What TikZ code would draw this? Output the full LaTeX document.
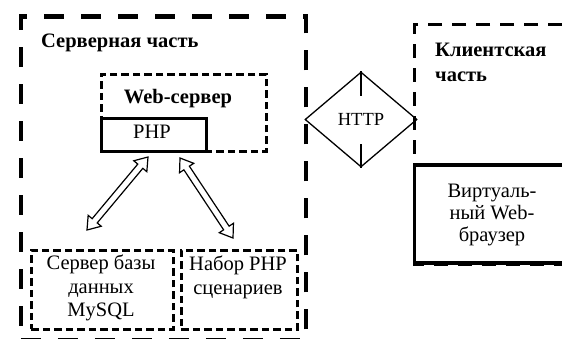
\documentclass[tikz,border=0pt]{standalone}
\usepackage{fontspec}
\setmainfont{Liberation Serif}
\usetikzlibrary{calc,shapes.geometric}
\newcommand\hollowdbl[2]{%
  \coordinate (#1h) at ($(#1)!12pt!(#2)$);
  \coordinate (#2h) at ($(#2)!12pt!(#1)$);
  \draw[arrowline] (#1)
    -- ($(#1h)!8.5pt!90:(#2)$) -- ($(#1h)!3.3pt!90:(#2)$)
    -- ($(#2h)!3.3pt!-90:(#1)$) -- ($(#2h)!8.5pt!-90:(#1)$)
    -- (#2)
    -- ($(#2h)!8.5pt!90:(#1)$) -- ($(#2h)!3.3pt!90:(#1)$)
    -- ($(#1h)!3.3pt!-90:(#2)$) -- ($(#1h)!8.5pt!-90:(#2)$)
    -- cycle;}
\begin{document}
\begin{tikzpicture}[x=1pt,y=-1pt,
  every node/.style={font=\fontsize{20.5}{23.5}\selectfont, inner sep=0pt},
  serverbox/.style={draw, rectangle, line width=4.5pt, dash pattern=on 20pt off 17pt},
  clientbox/.style={draw, line width=3pt, dash pattern=on 14pt off 10pt},
  webbox/.style={draw, rectangle, line width=2.7pt, dash pattern=on 7.5pt off 4pt},
  solidbox/.style={draw, rectangle, line width=3.2pt},
  txt/.style={align=center},
  ttl/.style={font=\fontsize{20.5}{25}\selectfont\bfseries, align=left},
  arrowline/.style={draw, line width=1.2pt, fill=white, line join=miter},
]
\useasboundingbox (0,0) rectangle (562,338);
% server part
\node[serverbox, minimum width=285pt, minimum height=324pt, anchor=north west] (server) at (18.5,14) {};
\node[ttl, anchor=base west] (servertitle) at (41,47) {Серверная часть};
% web server
\node[webbox, minimum width=165pt, minimum height=77pt, anchor=north west] (web) at (100,73) {};
\node[font=\fontsize{20.5}{23.5}\selectfont\bfseries, anchor=base] (webtitle) at (178,103) {Web-сервер};
\node[solidbox, minimum width=105pt, minimum height=33pt, anchor=north west] (php) at (100,117) {};
\node[anchor=base] (phptext) at (152,138) {PHP};
% bottom boxes
\node[webbox, minimum width=142pt, minimum height=79pt, anchor=north west] (mysql) at (30,249) {};
\node[txt] (mysqltext) at (101,288) {Сервер базы\\данных\\MySQL};
\node[webbox, minimum width=116pt, minimum height=79pt, anchor=north west] (scripts) at (180,249) {};
\node[txt, anchor=north] (scriptstext) at (238,256) {Набор PHP\\сценариев};
% arrows
\coordinate (a1) at (148,157);
\coordinate (a2) at (87,230);
\coordinate (b1) at (180,158);
\coordinate (b2) at (233,238);
\hollowdbl{a1}{a2}
\hollowdbl{b1}{b2}
% HTTP
\node[diamond, draw, line width=1.3pt, minimum width=112pt, minimum height=95pt, font=\fontsize{18.5}{22}\selectfont] (http) at (361,119.5) {HTTP};
\draw[line width=1.3pt] (http.north) -- ++(0,25);
\draw[line width=1.3pt] (http.south) -- ++(0,-24);
% client part
\coordinate (c1) at (562,24);
\coordinate (c2) at (414,24);
\coordinate (c3) at (414,264.5);
\coordinate (c4) at (562,264.5);
\draw[clientbox] (c1) -- (c2) -- (c3) -- (c4);
\node[ttl, anchor=north west] (clienttitle) at (435,42.5) {Клиентская\\часть};
\coordinate (d1) at (562,165);
\coordinate (d2) at (414.5,165);
\coordinate (d3) at (414.5,263);
\coordinate (d4) at (562,263);
\draw[line width=3.5pt] (d1) -- (d2) -- (d3) -- (d4);
\node[txt, font=\fontsize{20.5}{22}\selectfont, anchor=north] (browser) at (492,184) {Виртуаль-\\ный Web-\\браузер};
\end{tikzpicture}
\end{document}
